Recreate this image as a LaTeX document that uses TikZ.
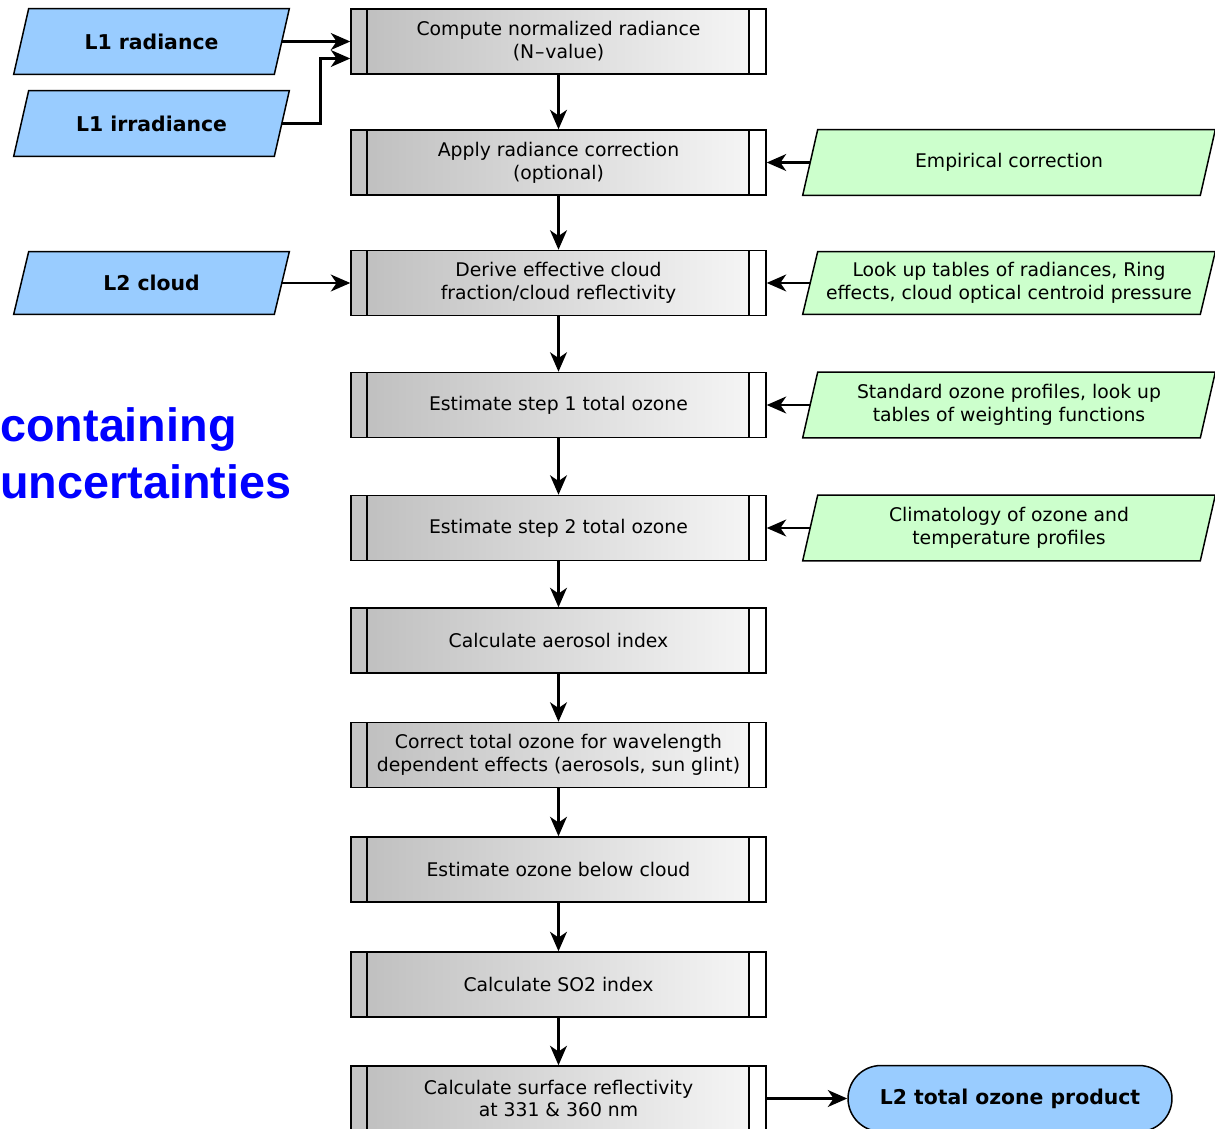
\documentclass[tikz,border=0pt]{standalone}
\usepackage{fontspec}
\setmainfont{DejaVu Sans}
\newfontfamily\headfont{Liberation Sans}
\usetikzlibrary{arrows.meta,shapes.misc,backgrounds}
\definecolor{inblue}{HTML}{99CCFF}
\definecolor{auxgreen}{HTML}{CCFFCC}
\definecolor{shadeL}{HTML}{BEBEBE}
\definecolor{shadeR}{HTML}{F7F7F7}
\definecolor{stripgray}{HTML}{C4C4C4}
\definecolor{headblue}{HTML}{0000FF}
% parallelogram outline around a (mid-width) rectangular node, slanted to the right
\newcommand\paraoutline[2]{%
  \draw[line width=0.85pt, fill=#2]
    ([xshift=0.15cm]#1.north west) -- ([xshift=0.15cm]#1.north east)
    -- ([xshift=-0.15cm]#1.south east) -- ([xshift=-0.15cm]#1.south west) -- cycle;}
\begin{document}
\begin{tikzpicture}[x=0.02cm,y=-0.02cm,
  procbox/.style={draw=black, line width=0.85pt, minimum width=8.3cm,
    minimum height=1.3cm, inner sep=0pt, left color=shadeL, right color=shadeR,
    align=center, font=\fontsize{10.7}{13}\selectfont,
    path picture={
      \fill[stripgray] (path picture bounding box.south west) rectangle
        ([xshift=0.32cm]path picture bounding box.north west);
      \fill[white] ([xshift=-0.34cm]path picture bounding box.south east) rectangle
        (path picture bounding box.north east);
      \draw[line width=0.85pt] ([xshift=0.32cm]path picture bounding box.south west)
        -- ([xshift=0.32cm]path picture bounding box.north west);
      \draw[line width=0.85pt] ([xshift=-0.34cm]path picture bounding box.south east)
        -- ([xshift=-0.34cm]path picture bounding box.north east);
    }},
  para/.style={rectangle, inner sep=0pt, minimum height=1.3cm, align=center},
  inpara/.style={para, minimum width=5.2cm,
    font=\fontsize{11.6}{14}\selectfont\bfseries},
  auxpara/.style={para, minimum width=7.94cm,
    font=\fontsize{10.7}{13}\selectfont},
  terminal/.style={rounded rectangle, draw=black, line width=0.85pt, fill=inblue,
    minimum width=6.48cm, minimum height=1.32cm, inner sep=0pt,
    font=\fontsize{11.6}{14}\selectfont\bfseries},
  flow/.style={-{Stealth[length=11pt,width=9.5pt,inset=3.2pt]}, line width=1.7pt},
  headline/.style={anchor=base west, inner sep=0pt, text=headblue,
    font=\headfont\bfseries\fontsize{26.6}{30}\selectfont}
]
\useasboundingbox (0,0) rectangle (1215,1129);

% processing chain
\node[procbox] (p1) at (558.5,41.5) {Compute normalized radiance\\(N{\kern0.05em}\textendash{\kern0.05em}value)};
\node[procbox] (p2) at (558.5,162.5) {Apply radiance correction\\(optional)};
\node[procbox] (p3) at (558.5,283) {Derive effective cloud\\fraction/cloud reflectivity};
\node[procbox] (p4) at (558.5,405) {Estimate step 1 total ozone};
\node[procbox] (p5) at (558.5,528) {Estimate step 2 total ozone};
\node[procbox] (p6) at (558.5,640.5) {Calculate aerosol index};
\node[procbox] (p7) at (558.5,755) {Correct total ozone for wavelength\\dependent effects (aerosols, sun glint)};
\node[procbox] (p8) at (558.5,869.5) {Estimate ozone below cloud};
\node[procbox] (p9) at (558.5,984.5) {Calculate SO2 index};
\node[procbox] (p10) at (558.5,1098.5) {Calculate surface reflectivity\\at 331 \& 360 nm};

% input data
\node[inpara] (rad) at (151.5,41.5) {L1 radiance};
\node[inpara] (irr) at (151.5,123.5) {L1 irradiance};
\node[inpara, minimum height=1.24cm] (cld) at (151.5,283) {L2 cloud};

% auxiliary data
\node[auxpara] (emp) at (1009,162.5) {Empirical correction};
\node[auxpara, minimum height=1.24cm] (lut) at (1009,283) {Look up tables of radiances, Ring\\effects, cloud optical centroid pressure};
\node[auxpara] (std) at (1009,405) {Standard ozone profiles, look up\\tables of weighting functions};
\node[auxpara] (clim) at (1009,528) {Climatology of ozone and\\temperature profiles};

% parallelogram outlines behind the data labels
\begin{scope}[on background layer]
  \foreach \n in {rad,irr,cld} {\paraoutline{\n}{inblue}}
  \foreach \n in {emp,lut,std,clim} {\paraoutline{\n}{auxgreen}}
\end{scope}

% output product
\node[terminal] (out) at (1010,1098.5) {L2 total ozone product};

% side heading
\node[headline] (h1) at (0,441) {containing};
\node[headline] (h2) at (0,498) {uncertainties};

% main flow
\foreach \a/\b in {p1/p2,p2/p3,p3/p4,p4/p5,p5/p6,p6/p7,p7/p8,p8/p9,p9/p10}
  \draw[flow] (\a.south) -- (\b.north);

% inputs
\draw[flow] (rad.east) -- (p1.west);
\draw[flow] (irr.east) -- ++(39,0) |- ([yshift=-0.34cm]p1.west);
\draw[flow] (cld.east) -- (p3.west);
\draw[flow] (emp.west) -- (p2.east);
\draw[flow] (lut.west) -- (p3.east);
\draw[flow] (std.west) -- (p4.east);
\draw[flow] (clim.west) -- (p5.east);
\draw[flow] (p10.east) -- (out.west);
\end{tikzpicture}
\end{document}
